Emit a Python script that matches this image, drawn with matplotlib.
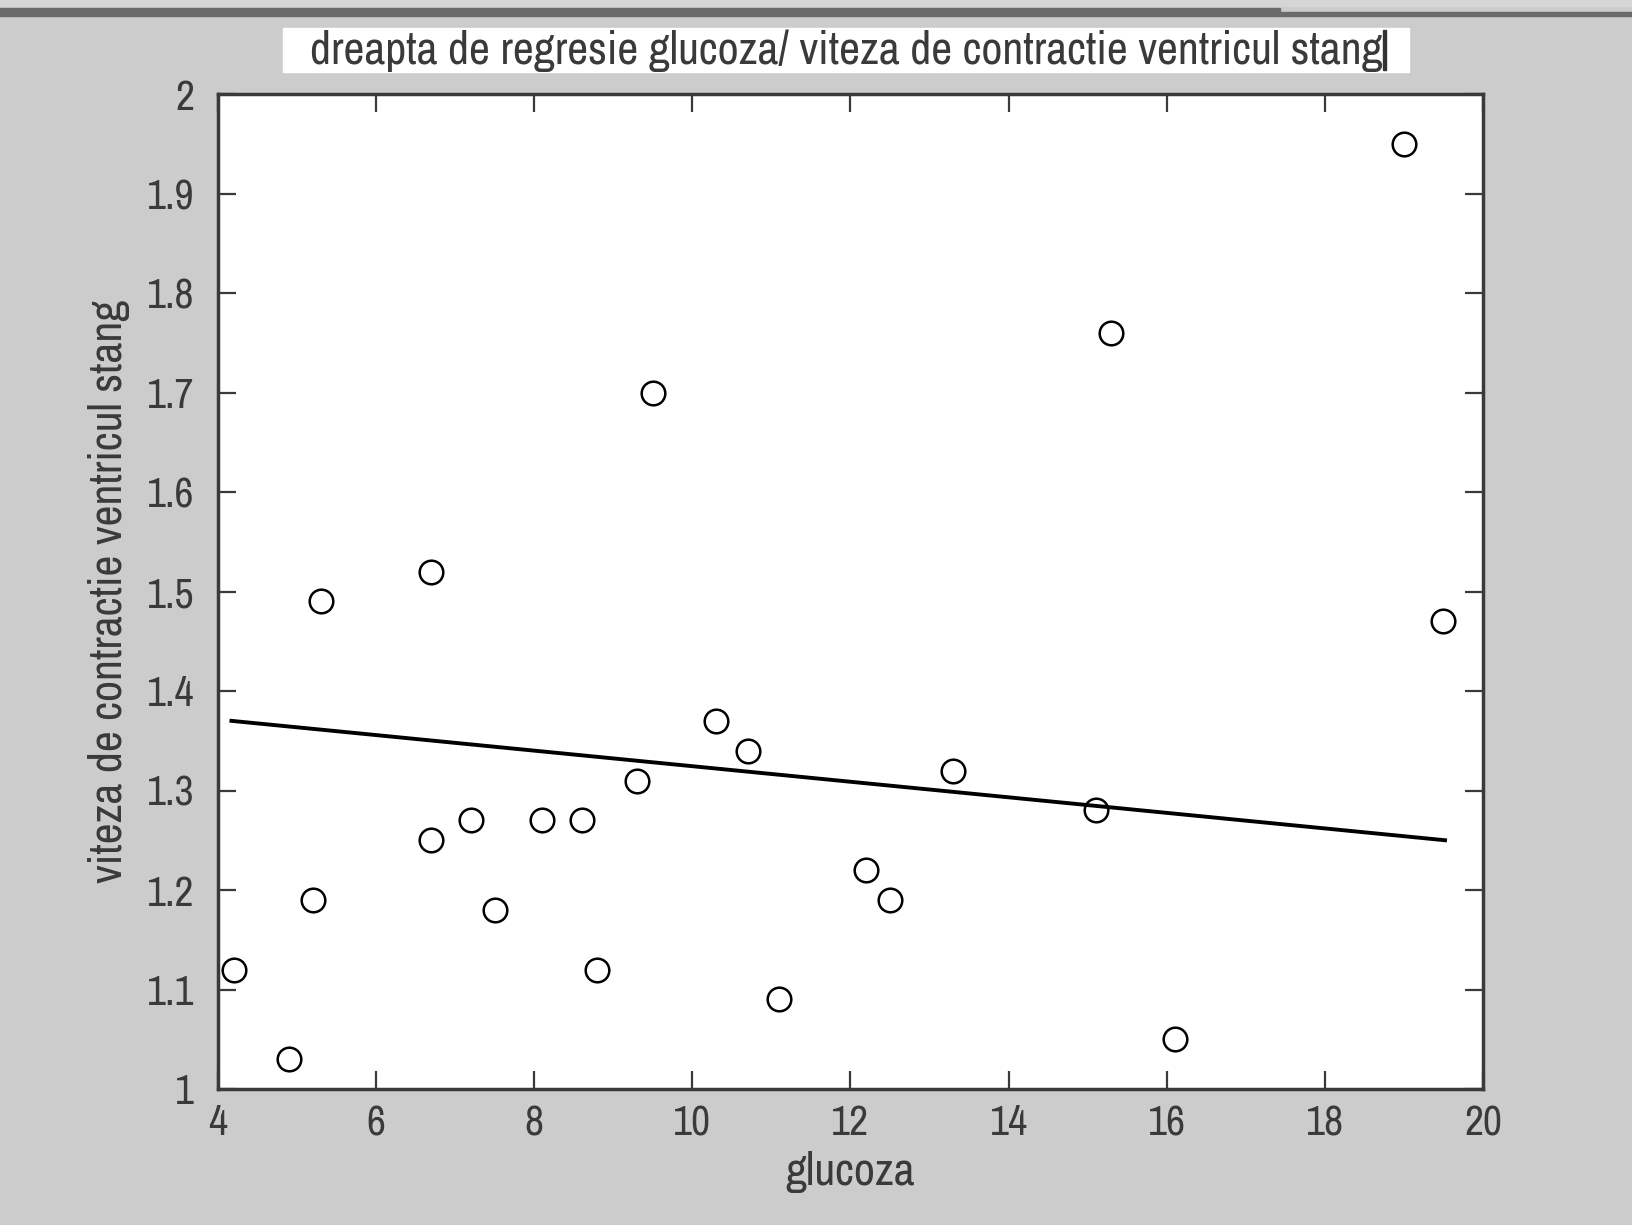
import matplotlib
matplotlib.use("Agg")
import matplotlib.pyplot as plt
from matplotlib.patches import Rectangle

# glucoza vs viteza de contractie
glucoza = [4.2, 4.9, 5.2, 5.3, 6.7, 6.7, 7.2, 7.5, 8.1, 8.6, 8.8, 9.3,
           9.5, 10.3, 10.7, 11.1, 12.2, 12.5, 13.3, 15.1, 15.3, 16.1, 19.0, 19.5]
viteza = [1.12, 1.03, 1.19, 1.49, 1.52, 1.25, 1.27, 1.18, 1.27, 1.27, 1.12, 1.31,
          1.70, 1.37, 1.34, 1.09, 1.22, 1.19, 1.32, 1.28, 1.76, 1.05, 1.95, 1.47]

# dreapta de regresie (capete)
line_x = [4.17, 19.52]
line_y = [1.370, 1.250]

xticks = [4, 6, 8, 10, 12, 14, 16, 18, 20]
yticks = [1, 1.1, 1.2, 1.3, 1.4, 1.5, 1.6, 1.7, 1.8, 1.9, 2]
ytick_labels = ["1", "1.1", "1.2", "1.3", "1.4", "1.5", "1.6", "1.7", "1.8", "1.9", "2"]

plt.rcParams["font.family"] = ["Archivo Narrow", "DejaVu Sans"]

bg = "#cccccc"
ink = "#3a3a3a"
fs = 33

fig = plt.figure(figsize=(16.33, 12.25), dpi=100, facecolor=bg)

# bits of window chrome at the top
fig.patches.append(Rectangle((0, 1 - 16 / 1225), 1280 / 1633, 8 / 1225,
                             transform=fig.transFigure, color="#6a6a6a", zorder=0))
fig.patches.append(Rectangle((1280 / 1633, 1 - 16 / 1225), 1 - 1280 / 1633, 4 / 1225,
                             transform=fig.transFigure, color="#6a6a6a", zorder=0))
fig.patches.append(Rectangle((0, 1 - 6 / 1225), 1, 6 / 1225,
                             transform=fig.transFigure, color="#d6d6d6", zorder=0))

# title box
fig.patches.append(Rectangle((283 / 1633, 1 - 72 / 1225), (1409 - 283) / 1633, 44 / 1225,
                             transform=fig.transFigure, color="white", zorder=1))
fig.text(846 / 1633, 1 - 51 / 1225, "dreapta de regresie glucoza/ viteza de contractie ventricul stang",
         ha="center", va="center", fontsize=fs, color=ink, zorder=2)
fig.patches.append(Rectangle((1383 / 1633, 1 - 70 / 1225), 3 / 1633, 40 / 1225,
                             transform=fig.transFigure, color="#333333", zorder=3))

ax = fig.add_axes([218 / 1633, 136 / 1225, (1483 - 218) / 1633, (1089 - 94) / 1225])
ax.set_facecolor("white")

ax.plot(glucoza, viteza, "o", markersize=17, markerfacecolor="none",
        markeredgecolor="black", markeredgewidth=1.8)
ax.plot(line_x, line_y, "-", color="black", linewidth=2.8)

ax.set_xlim(4, 20)
ax.set_ylim(1, 2)
ax.set_xticks(xticks)
ax.set_yticks(yticks)
ax.set_yticklabels(ytick_labels)
ax.tick_params(direction="in", length=13, width=1.6, color=ink, labelcolor=ink,
               labelsize=30, top=True, right=True)
ax.tick_params(axis="y", pad=17)
ax.tick_params(axis="x", pad=11)
for s in ax.spines.values():
    s.set_linewidth(2.5)
    s.set_color(ink)

ax.set_xlabel("glucoza", fontsize=fs, color=ink, labelpad=6)
ax.set_ylabel("viteza de contractie ventricul stang", fontsize=fs, color=ink, labelpad=12)

fig.savefig("out.png", dpi=100, facecolor=bg)
